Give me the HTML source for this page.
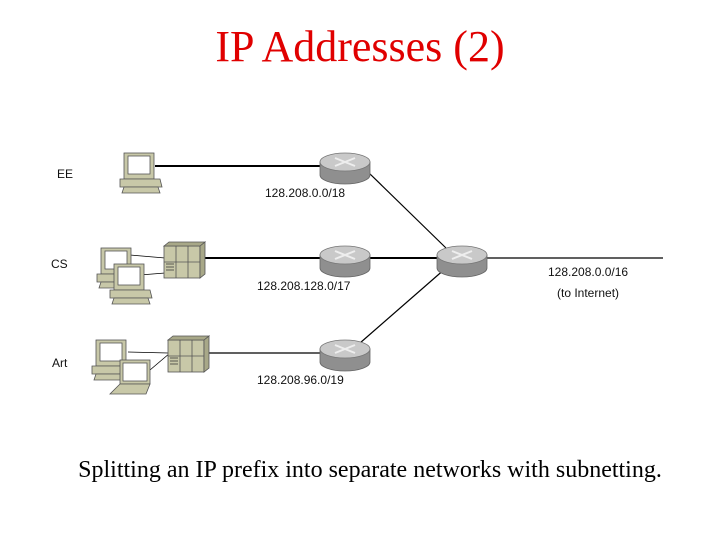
<!DOCTYPE html>
<html><head><style>
body{margin:0;background:#fff;}
</style></head><body>
<svg width="720" height="540" xmlns="http://www.w3.org/2000/svg" style="display:block">
<defs>
<g id="router">
<path d="M-25,-6 L-25,7 A25,9 0 0 0 25,7 L25,-6 Z" fill="#8f8f8f" stroke="#666" stroke-width="0.8"/>
<ellipse cx="0" cy="-6" rx="25" ry="9" fill="#c9c9c9" stroke="#777" stroke-width="0.8"/>
<path d="M-10,-10 L10,-2 M-10,-2 L10,-10" stroke="#eee" stroke-width="2"/>
</g>
<g id="pc">
<rect x="0" y="0" width="30" height="26" fill="#c8c8a8" stroke="#555" stroke-width="0.8"/>
<rect x="4" y="3" width="22" height="18" fill="#fff" stroke="#555" stroke-width="0.8"/>
<path d="M-4,26 L36,26 L38,34 L-4,34 Z" fill="#c8c8a8" stroke="#555" stroke-width="0.8"/>
<path d="M0,34 L34,34 L36,40 L-2,40 Z" fill="#c8c8a8" stroke="#555" stroke-width="0.8"/>
</g>
<g id="srv">
<rect x="0" y="0" width="36" height="32" fill="#c8c8a8" stroke="#555" stroke-width="0.8"/>
<path d="M36,0 L41,-4 L41,28 L36,32 Z M0,0 L5,-4 L41,-4 L36,0Z" fill="#a8a888" stroke="#555" stroke-width="0.8"/>
<path d="M12,0 V32 M24,0 V32 M0,16 H36" stroke="#555" stroke-width="0.8"/>
<path d="M2,18 H10 M2,21 H10 M2,24 H10" stroke="#333" stroke-width="0.8"/>
</g>
</defs>
<text x="360" y="61" text-anchor="middle" font-family="Liberation Serif" font-size="44" fill="#e00000">IP Addresses (2)</text>
<g stroke="#000" fill="none">
<line x1="155" y1="166" x2="322" y2="166" stroke-width="2"/>
<line x1="205" y1="258" x2="322" y2="258" stroke-width="2"/>
<line x1="208" y1="353" x2="322" y2="353" stroke-width="1.2"/>
<line x1="368" y1="172" x2="446" y2="248" stroke-width="1.2"/>
<line x1="360" y1="343" x2="446" y2="268" stroke-width="1.2"/>
<line x1="368" y1="258" x2="440" y2="258" stroke-width="2"/>
<line x1="485" y1="258" x2="663" y2="258" stroke-width="1.2"/>
<line x1="130" y1="255" x2="165" y2="258" stroke-width="0.8"/>
<line x1="140" y1="275" x2="165" y2="273" stroke-width="0.8"/>
<line x1="128" y1="352" x2="168" y2="353" stroke-width="0.8"/>
<line x1="150" y1="370" x2="170" y2="353" stroke-width="0.8"/>
</g>
<use href="#router" x="345" y="168"/>
<use href="#router" x="345" y="261"/>
<use href="#router" x="345" y="355"/>
<use href="#router" x="462" y="261"/>
<use href="#pc" x="124" y="153"/>
<use href="#pc" x="101" y="248"/>
<use href="#pc" x="114" y="264"/>
<use href="#srv" x="164" y="246"/>
<use href="#pc" x="96" y="340"/>
<g>
<rect x="120" y="360" width="30" height="24" fill="#c8c8a8" stroke="#555" stroke-width="0.8"/>
<rect x="123" y="363" width="24" height="18" fill="#fff" stroke="#555" stroke-width="0.8"/>
<path d="M120,384 L150,384 L146,394 L110,394 Z" fill="#c8c8a8" stroke="#555" stroke-width="0.8"/>
</g>
<use href="#srv" x="168" y="340"/>
<g font-family="Liberation Sans" font-size="12" fill="#111">
<text x="57" y="178">EE</text>
<text x="51" y="268">CS</text>
<text x="52" y="367">Art</text>
<text x="265" y="197">128.208.0.0/18</text>
<text x="257" y="290">128.208.128.0/17</text>
<text x="257" y="384">128.208.96.0/19</text>
<text x="548" y="276">128.208.0.0/16</text>
<text x="557" y="297">(to Internet)</text>
</g>
<text x="370" y="477" text-anchor="middle" font-family="Liberation Serif" font-size="24" fill="#000">Splitting an IP prefix into separate networks with subnetting.</text>
</svg>
</body></html>
